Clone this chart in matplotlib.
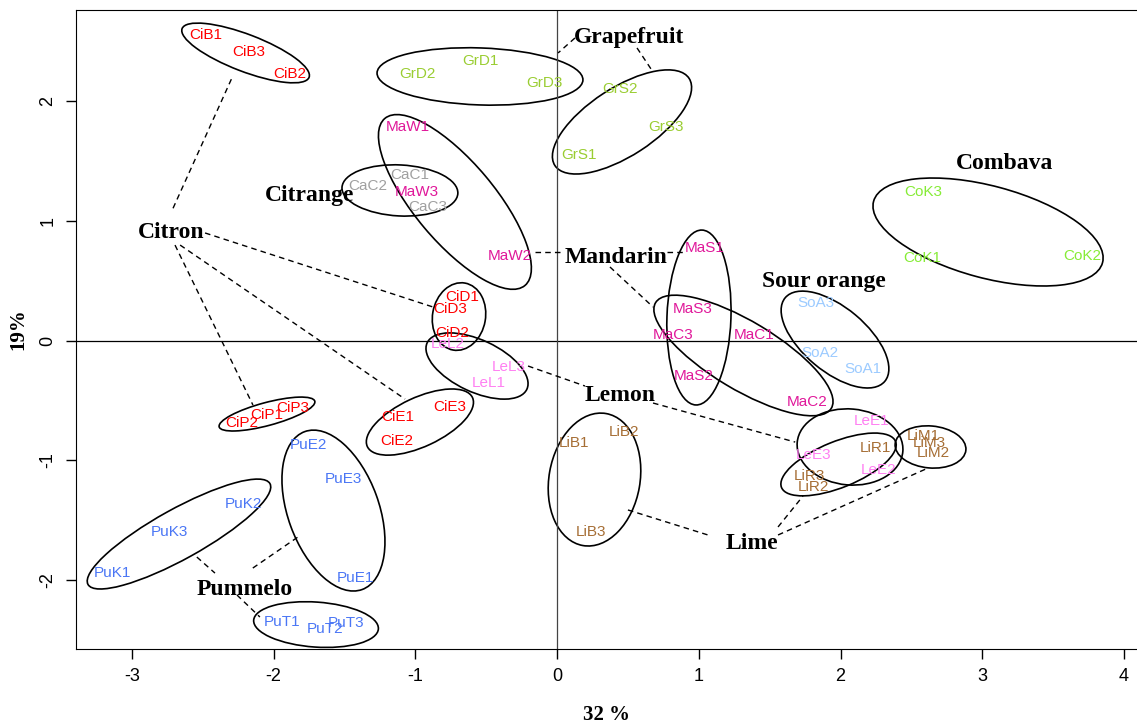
import matplotlib
matplotlib.use("Agg")
import matplotlib.pyplot as plt
from matplotlib.patches import Ellipse
from matplotlib.transforms import ScaledTranslation

plt.rcParams["axes.unicode_minus"] = False

# sample scores on the first two components
samples = ["CiB1", "CiB3", "CiB2", "GrD1", "GrD2", "GrD3", "GrS2", "GrS3", "GrS1",
           "MaW1", "MaW3", "MaW2", "CaC1", "CaC2", "CaC3", "CiD1", "CiD3", "CiD2",
           "LeL2", "LeL3", "LeL1", "CiE3", "CiE1", "CiE2", "CiP2", "CiP1", "CiP3",
           "PuE2", "PuE3", "PuE1", "PuK2", "PuK3", "PuK1", "PuT1", "PuT2", "PuT3",
           "MaS1", "MaS3", "MaS2", "MaC3", "MaC1", "MaC2", "SoA3", "SoA2", "SoA1",
           "CoK3", "CoK1", "CoK2", "LiB2", "LiB1", "LiB3", "LeE1", "LeE3", "LeE2",
           "LiR1", "LiR3", "LiR2", "LiM1", "LiM3", "LiM2"]
pc1 = [-2.478, -2.174, -1.885, -0.544, -0.982, -0.092, 0.444, 0.769, 0.155,
       -1.052, -0.989, -0.332, -1.038, -1.335, -0.911, -0.671, -0.756, -0.742,
       -0.770, -0.339, -0.481, -0.756, -1.123, -1.130, -2.224, -2.047, -1.864,
       -1.751, -1.511, -1.426, -2.210, -2.732, -3.141, -1.941, -1.638, -1.490,
       1.044, 0.959, 0.966, 0.818, 1.390, 1.764, 1.827, 1.855, 2.159,
       2.582, 2.575, 3.704, 0.472, 0.119, 0.239, 2.222, 1.813, 2.265,
       2.243, 1.778, 1.806, 2.582, 2.625, 2.653]
pc2 = [2.551, 2.409, 2.225, 2.334, 2.225, 2.150, 2.100, 1.783, 1.549,
       1.783, 1.240, 0.706, 1.382, 1.290, 1.115, 0.363, 0.263, 0.063,
       -0.029, -0.221, -0.355, -0.555, -0.639, -0.839, -0.689, -0.622, -0.564,
       -0.873, -1.157, -1.983, -1.365, -1.599, -1.942, -2.351, -2.409, -2.359,
       0.772, 0.263, -0.296, 0.046, 0.046, -0.514, 0.313, -0.104, -0.238,
       1.240, 0.689, 0.706, -0.764, -0.856, -1.599, -0.672, -0.956, -1.081,
       -0.898, -1.132, -1.223, -0.797, -0.856, -0.939]

# species names and where they are written
species = ["Grapefruit", "Citrange", "Citron", "Combava", "Mandarin",
           "Sour orange", "Lemon", "Lime", "Pummelo"]
species_x = [0.508, -1.750, -2.724, 3.161, 0.416, 1.884, 0.444, 1.375, -2.202]
species_y = [2.534, 1.207, 0.906, 1.482, 0.697, 0.489, -0.455, -1.691, -2.075]

# one ellipse per sample group: centre, width, height (pixels), angle
groups = ["CiB", "GrD", "GrS", "MaW", "CaC", "CiD", "LeL", "CiE", "CiP", "PuK",
          "PuE", "PuT", "MaS", "MaC", "SoA", "CoK", "LiB", "LeE", "LiR", "LiM"]
ell_x = [-2.198, -0.544, 0.458, -0.721, -1.109, -0.692, -0.565, -0.968, -2.047, -2.668,
         -1.578, -1.701, 1.001, 1.315, 1.961, 3.041, 0.264, 2.067, 1.986, 2.635]
ell_y = [2.401, 2.205, 1.825, 1.157, 1.253, 0.200, -0.213, -0.681, -0.614, -1.616,
         -1.420, -2.372, 0.192, -0.125, 0.008, 0.906, -1.161, -0.889, -1.035, -0.889]
ell_w = [136, 206, 160, 218, 116, 68, 110, 116, 99, 208,
         168, 125, 175, 205, 130, 237, 134, 106, 123, 71]
ell_h = [37, 57, 68, 80, 51, 53, 52, 49, 23, 50,
         91, 45, 64, 68, 64, 92, 91, 76, 46, 42]
ell_a = [-21, -2, 33, -50, -3, 80, -25, 25, 15, 29,
         -70, -4, 88, -31, -40, -15, 80, -5, 22, -5]

# dashed links from species names to their groups
links = [((-2.710, 1.104), (-2.287, 2.212)),
         ((-2.484, 0.898), (-0.876, 0.280)),
         ((-2.660, 0.797), (-1.073, -0.489)),
         ((-2.696, 0.797), (-2.146, -0.539)),
         ((0.126, 2.526), (0.007, 2.401)),
         ((0.564, 2.443), (0.677, 2.242)),
         ((-0.156, 0.739), (0.042, 0.739)),
         ((0.776, 0.739), (0.888, 0.739)),
         ((0.373, 0.614), (0.677, 0.280)),
         ((-0.205, -0.213), (0.197, -0.380)),
         ((0.677, -0.522), (1.680, -0.848)),
         ((0.500, -1.415), (1.065, -1.624)),
         ((1.559, -1.557), (1.735, -1.299)),
         ((1.559, -1.624), (2.617, -1.065)),
         ((-2.542, -1.808), (-2.414, -1.942)),
         ((-2.147, -1.900), (-1.829, -1.641)),
         ((-2.259, -2.125), (-2.097, -2.309))]

colours = {"Ci": "#FF0000", "Gr": "#9ACD32", "Ma": "#E0189A", "Ca": "#A0A0A0",
           "Le": "#FF80F2", "Pu": "#4A76F5", "So": "#9CCBFF", "Co": "#86EC36",
           "Li": "#A66E35"}

fig = plt.figure(figsize=(11.37, 7.28), dpi=100)
ax = fig.add_axes([0.0668, 0.1085, 0.9332, 0.8778])
ax.set_xlim(-3.395, 4.092)
ax.set_ylim(-2.576, 2.760)

ax.axhline(0, color="black", lw=0.9)
ax.axvline(0, color="#444444", lw=0.9)

for name, x, y in zip(samples, pc1, pc2):
    ax.text(x, y, name, ha="center", va="center", fontsize=11,
            family="Liberation Sans", color=colours[name[:2]])

for cx, cy, w, h, a in zip(ell_x, ell_y, ell_w, ell_h, ell_a):
    tr = fig.dpi_scale_trans + ScaledTranslation(cx, cy, ax.transData)
    ax.add_patch(Ellipse((0, 0), w / 100, h / 100, angle=a, transform=tr,
                         fill=False, ec="black", lw=1.2))

for (x0, y0), (x1, y1) in links:
    ax.plot([x0, x1], [y0, y1], color="black", lw=1, ls=(0, (4, 3)))

for s, x, y in zip(species, species_x, species_y):
    ax.text(x, y, s, ha="center", va="center", fontsize=17, fontweight="bold",
            family="Liberation Serif")

ax.spines["right"].set_visible(False)
ax.set_xticks(range(-3, 5))
ax.set_yticks(range(-2, 3))
ax.tick_params(length=7, width=1, labelsize=13, pad=7)
for lab in ax.get_xticklabels() + ax.get_yticklabels():
    lab.set_family("Liberation Sans")
for lab in ax.get_yticklabels():
    lab.set_rotation(90)
    lab.set_va("center")
ax.set_xlabel("32 %", fontsize=15, fontweight="bold", family="Liberation Serif",
              labelpad=14)
ax.set_ylabel("19%", fontsize=15, fontweight="bold", family="Liberation Serif",
              labelpad=8)

fig.savefig("out.png", dpi=100)
